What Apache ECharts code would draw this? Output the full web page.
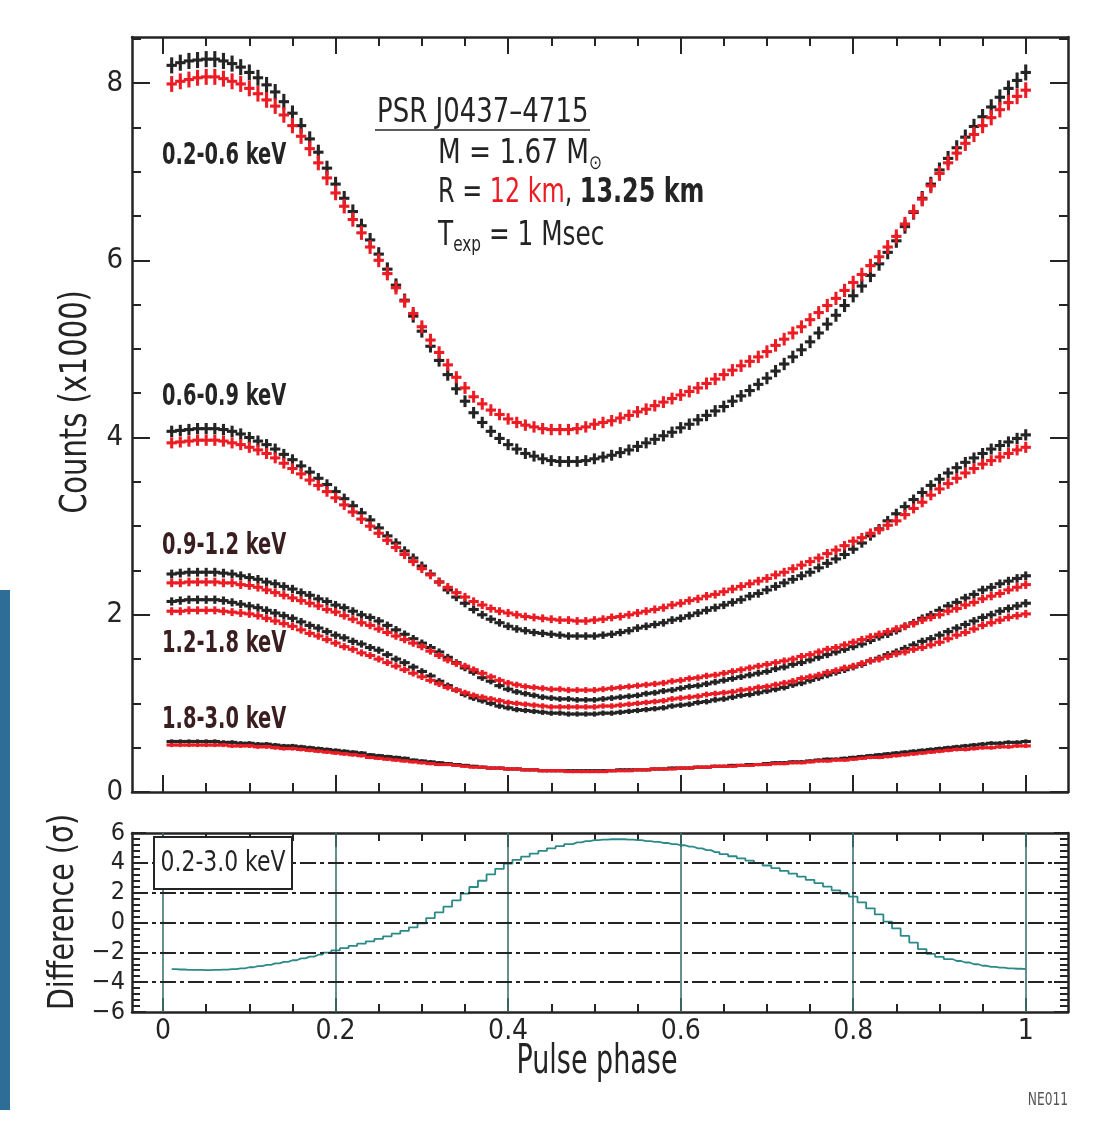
<!DOCTYPE html>
<html>
<head>
<meta charset="utf-8">
<title>PSR J0437-4715 pulse profiles</title>
<script src="https://cdn.jsdelivr.net/npm/echarts@6/dist/echarts.min.js"></script>
<style>
  html, body { margin: 0; padding: 0; background: #fff; }
  #chart { width: 1098px; height: 1129px; }
</style>
</head>
<body>
<div id="chart"></div>
<script>
// 100 phase bins, centres 0.01 .. 1.00
const phase = Array.from({ length: 100 }, (_, i) => +((i + 1) / 100).toFixed(2));

const phaseTicks = [0, 0.2, 0.4, 0.6, 0.8, 1];
const countTicks = [0, 2, 4, 6, 8];
const diffTicks = [-6, -4, -2, 0, 2, 4, 6];
const diffGridLines = [-4, -2, 0, 2, 4];

// counts (x1000), black = R 13.25 km, red = R 12 km
const b06 = [
  8.20, 8.23, 8.25, 8.26, 8.27, 8.27, 8.25, 8.22, 8.18, 8.12,
  8.06, 7.98, 7.90, 7.79, 7.66, 7.52, 7.37, 7.22, 7.04, 6.86,
  6.70, 6.55, 6.39, 6.23, 6.07, 5.90, 5.72, 5.55, 5.37, 5.20,
  5.03, 4.87, 4.71, 4.55, 4.41, 4.28, 4.17, 4.07, 3.99, 3.92,
  3.87, 3.82, 3.79, 3.76, 3.74, 3.73, 3.73, 3.73, 3.74, 3.76,
  3.78, 3.80, 3.83, 3.86, 3.90, 3.94, 3.98, 4.02, 4.06, 4.11,
  4.15, 4.20, 4.25, 4.30, 4.35, 4.41, 4.47, 4.53, 4.60, 4.67,
  4.75, 4.83, 4.91, 4.99, 5.08, 5.18, 5.28, 5.38, 5.49, 5.60,
  5.71, 5.83, 5.96, 6.09, 6.22, 6.38, 6.54, 6.70, 6.86, 7.02,
  7.15, 7.27, 7.39, 7.51, 7.62, 7.73, 7.84, 7.94, 8.03, 8.12
];
const r06 = [
  7.99, 8.02, 8.04, 8.06, 8.07, 8.07, 8.05, 8.02, 7.99, 7.94,
  7.88, 7.81, 7.74, 7.64, 7.52, 7.40, 7.26, 7.10, 6.93, 6.76,
  6.61, 6.46, 6.31, 6.15, 6.00, 5.85, 5.69, 5.54, 5.40, 5.25,
  5.10, 4.96, 4.82, 4.68, 4.56, 4.46, 4.38, 4.31, 4.26, 4.21,
  4.17, 4.14, 4.12, 4.10, 4.09, 4.09, 4.09, 4.10, 4.12, 4.15,
  4.17, 4.19, 4.22, 4.25, 4.29, 4.32, 4.36, 4.40, 4.44, 4.48,
  4.52, 4.56, 4.61, 4.66, 4.71, 4.76, 4.81, 4.86, 4.91, 4.97,
  5.04, 5.11, 5.18, 5.25, 5.33, 5.41, 5.49, 5.57, 5.66, 5.75,
  5.84, 5.94, 6.04, 6.15, 6.27, 6.41, 6.55, 6.69, 6.84, 6.98,
  7.10, 7.21, 7.32, 7.42, 7.52, 7.61, 7.70, 7.78, 7.85, 7.92
];
const b09 = [
  4.07, 4.08, 4.09, 4.10, 4.10, 4.10, 4.09, 4.07, 4.04, 4.00,
  3.96, 3.92, 3.87, 3.81, 3.75, 3.68, 3.61, 3.54, 3.47, 3.39,
  3.31, 3.23, 3.15, 3.07, 2.98, 2.89, 2.81, 2.72, 2.64, 2.55,
  2.46, 2.37, 2.28, 2.20, 2.13, 2.06, 2.00, 1.95, 1.91, 1.87,
  1.84, 1.82, 1.80, 1.79, 1.78, 1.77, 1.76, 1.76, 1.76, 1.76,
  1.77, 1.78, 1.80, 1.82, 1.85, 1.87, 1.89, 1.91, 1.94, 1.96,
  1.99, 2.02, 2.05, 2.08, 2.11, 2.14, 2.17, 2.21, 2.24, 2.28,
  2.32, 2.36, 2.40, 2.44, 2.48, 2.53, 2.58, 2.63, 2.68, 2.74,
  2.81, 2.89, 2.97, 3.06, 3.14, 3.22, 3.30, 3.38, 3.46, 3.53,
  3.60, 3.66, 3.72, 3.77, 3.82, 3.87, 3.91, 3.95, 3.99, 4.03
];
const r09 = [
  3.94, 3.95, 3.96, 3.97, 3.97, 3.97, 3.96, 3.94, 3.92, 3.89,
  3.86, 3.82, 3.77, 3.71, 3.65, 3.59, 3.52, 3.46, 3.39, 3.32,
  3.24, 3.16, 3.08, 3.00, 2.92, 2.84, 2.76, 2.68, 2.60, 2.52,
  2.45, 2.37, 2.31, 2.25, 2.20, 2.15, 2.11, 2.07, 2.04, 2.02,
  2.00, 1.98, 1.97, 1.96, 1.95, 1.94, 1.94, 1.93, 1.93, 1.94,
  1.95, 1.97, 1.98, 2.00, 2.02, 2.04, 2.06, 2.08, 2.11, 2.13,
  2.16, 2.18, 2.21, 2.23, 2.26, 2.29, 2.32, 2.35, 2.38, 2.41,
  2.45, 2.48, 2.52, 2.56, 2.60, 2.64, 2.69, 2.73, 2.78, 2.83,
  2.87, 2.92, 2.96, 3.01, 3.06, 3.13, 3.20, 3.27, 3.35, 3.42,
  3.48, 3.54, 3.60, 3.65, 3.70, 3.74, 3.78, 3.82, 3.86, 3.89
];
const b12 = [
  2.46, 2.47, 2.48, 2.48, 2.48, 2.48, 2.47, 2.46, 2.44, 2.42,
  2.40, 2.37, 2.35, 2.32, 2.29, 2.25, 2.22, 2.18, 2.15, 2.11,
  2.08, 2.04, 2.00, 1.97, 1.93, 1.88, 1.83, 1.78, 1.73, 1.68,
  1.63, 1.58, 1.52, 1.46, 1.40, 1.35, 1.29, 1.25, 1.20, 1.16,
  1.13, 1.11, 1.09, 1.07, 1.06, 1.05, 1.05, 1.04, 1.04, 1.04,
  1.05, 1.06, 1.07, 1.08, 1.09, 1.11, 1.12, 1.14, 1.15, 1.17,
  1.19, 1.20, 1.22, 1.24, 1.26, 1.28, 1.30, 1.32, 1.34, 1.36,
  1.39, 1.41, 1.44, 1.46, 1.49, 1.52, 1.55, 1.58, 1.61, 1.64,
  1.67, 1.71, 1.75, 1.78, 1.82, 1.87, 1.91, 1.96, 2.00, 2.05,
  2.10, 2.14, 2.19, 2.23, 2.28, 2.31, 2.35, 2.38, 2.41, 2.44
];
const r12 = [
  2.36, 2.36, 2.37, 2.37, 2.37, 2.37, 2.36, 2.36, 2.34, 2.33,
  2.31, 2.28, 2.25, 2.22, 2.19, 2.16, 2.13, 2.10, 2.06, 2.03,
  1.99, 1.95, 1.91, 1.88, 1.84, 1.80, 1.76, 1.72, 1.68, 1.64,
  1.59, 1.54, 1.49, 1.45, 1.42, 1.38, 1.34, 1.30, 1.26, 1.23,
  1.21, 1.19, 1.18, 1.17, 1.16, 1.16, 1.15, 1.15, 1.15, 1.15,
  1.16, 1.17, 1.18, 1.19, 1.20, 1.21, 1.22, 1.23, 1.25, 1.26,
  1.28, 1.29, 1.31, 1.32, 1.34, 1.36, 1.38, 1.40, 1.42, 1.44,
  1.46, 1.48, 1.50, 1.53, 1.55, 1.58, 1.61, 1.63, 1.66, 1.69,
  1.72, 1.75, 1.78, 1.81, 1.84, 1.87, 1.90, 1.94, 1.97, 2.00,
  2.04, 2.07, 2.11, 2.14, 2.18, 2.21, 2.24, 2.28, 2.31, 2.34
];
const b18 = [
  2.15, 2.16, 2.17, 2.17, 2.17, 2.17, 2.16, 2.14, 2.12, 2.10,
  2.08, 2.05, 2.02, 1.99, 1.96, 1.92, 1.88, 1.85, 1.81, 1.77,
  1.74, 1.70, 1.67, 1.63, 1.60, 1.55, 1.50, 1.46, 1.41, 1.36,
  1.31, 1.25, 1.20, 1.15, 1.10, 1.06, 1.03, 1.00, 0.97, 0.95,
  0.93, 0.92, 0.91, 0.90, 0.89, 0.89, 0.88, 0.88, 0.88, 0.88,
  0.89, 0.89, 0.90, 0.91, 0.92, 0.93, 0.94, 0.95, 0.97, 0.98,
  0.99, 1.01, 1.02, 1.04, 1.05, 1.07, 1.09, 1.10, 1.12, 1.14,
  1.16, 1.18, 1.21, 1.23, 1.26, 1.29, 1.32, 1.35, 1.38, 1.41,
  1.44, 1.48, 1.51, 1.55, 1.58, 1.62, 1.66, 1.70, 1.73, 1.77,
  1.81, 1.85, 1.89, 1.93, 1.97, 2.00, 2.04, 2.07, 2.10, 2.13
];
const r18 = [
  2.04, 2.04, 2.05, 2.05, 2.05, 2.05, 2.04, 2.03, 2.02, 2.01,
  1.99, 1.96, 1.93, 1.90, 1.87, 1.83, 1.79, 1.76, 1.72, 1.68,
  1.64, 1.61, 1.57, 1.54, 1.50, 1.46, 1.42, 1.38, 1.34, 1.30,
  1.26, 1.22, 1.18, 1.15, 1.12, 1.09, 1.07, 1.05, 1.03, 1.01,
  1.00, 0.99, 0.98, 0.97, 0.96, 0.96, 0.96, 0.96, 0.96, 0.96,
  0.97, 0.97, 0.98, 0.99, 1.00, 1.01, 1.02, 1.03, 1.05, 1.06,
  1.07, 1.08, 1.10, 1.11, 1.12, 1.13, 1.15, 1.16, 1.18, 1.19,
  1.21, 1.23, 1.25, 1.28, 1.30, 1.32, 1.35, 1.37, 1.40, 1.42,
  1.45, 1.48, 1.50, 1.53, 1.56, 1.58, 1.61, 1.63, 1.66, 1.69,
  1.73, 1.77, 1.80, 1.84, 1.88, 1.91, 1.94, 1.97, 1.99, 2.01
];
const b30 = [
  0.57, 0.57, 0.57, 0.57, 0.57, 0.57, 0.56, 0.56, 0.55, 0.55,
  0.54, 0.54, 0.53, 0.52, 0.52, 0.51, 0.50, 0.49, 0.48, 0.47,
  0.46, 0.45, 0.44, 0.42, 0.41, 0.40, 0.39, 0.38, 0.36, 0.35,
  0.34, 0.33, 0.32, 0.31, 0.30, 0.29, 0.28, 0.27, 0.27, 0.26,
  0.26, 0.25, 0.25, 0.24, 0.24, 0.24, 0.24, 0.24, 0.24, 0.24,
  0.24, 0.24, 0.25, 0.25, 0.25, 0.25, 0.26, 0.26, 0.27, 0.27,
  0.27, 0.28, 0.28, 0.29, 0.29, 0.30, 0.30, 0.31, 0.31, 0.32,
  0.33, 0.33, 0.34, 0.34, 0.35, 0.36, 0.37, 0.37, 0.38, 0.39,
  0.40, 0.41, 0.42, 0.43, 0.44, 0.45, 0.46, 0.47, 0.48, 0.49,
  0.50, 0.51, 0.52, 0.53, 0.54, 0.55, 0.55, 0.56, 0.56, 0.57
];
const r30 = [
  0.53, 0.53, 0.53, 0.53, 0.53, 0.53, 0.53, 0.52, 0.52, 0.52,
  0.51, 0.51, 0.50, 0.49, 0.49, 0.48, 0.47, 0.46, 0.45, 0.44,
  0.43, 0.42, 0.41, 0.39, 0.38, 0.37, 0.36, 0.35, 0.34, 0.33,
  0.32, 0.31, 0.31, 0.30, 0.29, 0.28, 0.28, 0.27, 0.27, 0.26,
  0.26, 0.25, 0.25, 0.24, 0.24, 0.24, 0.23, 0.23, 0.23, 0.23,
  0.23, 0.24, 0.24, 0.24, 0.25, 0.25, 0.26, 0.26, 0.26, 0.27,
  0.27, 0.28, 0.28, 0.29, 0.29, 0.29, 0.30, 0.30, 0.31, 0.31,
  0.32, 0.32, 0.33, 0.33, 0.34, 0.35, 0.35, 0.36, 0.36, 0.37,
  0.38, 0.39, 0.39, 0.40, 0.41, 0.42, 0.43, 0.44, 0.45, 0.46,
  0.47, 0.48, 0.48, 0.49, 0.50, 0.50, 0.51, 0.51, 0.52, 0.52
];

// difference between the two models, 0.2-3.0 keV, in sigma
const diff = [
  -3.13, -3.15, -3.17, -3.18, -3.19, -3.18, -3.16, -3.13, -3.07, -3.00,
  -2.92, -2.84, -2.74, -2.64, -2.53, -2.41, -2.29, -2.16, -2.02, -1.87,
  -1.72, -1.57, -1.42, -1.26, -1.10, -0.93, -0.75, -0.56, -0.33, -0.05,
  0.30, 0.68, 1.06, 1.48, 1.93, 2.38, 2.80, 3.22, 3.60, 3.95,
  4.20, 4.42, 4.62, 4.80, 4.97, 5.12, 5.26, 5.37, 5.46, 5.52,
  5.56, 5.58, 5.58, 5.56, 5.52, 5.46, 5.40, 5.33, 5.26, 5.18,
  5.08, 4.97, 4.85, 4.72, 4.58, 4.44, 4.30, 4.15, 3.99, 3.82,
  3.64, 3.46, 3.27, 3.07, 2.86, 2.64, 2.40, 2.16, 1.94, 1.73,
  1.35, 0.95, 0.54, 0.06, -0.40, -0.90, -1.35, -1.78, -2.10, -2.30,
  -2.45, -2.58, -2.68, -2.80, -2.90, -2.97, -3.03, -3.07, -3.10, -3.12
];

const INK = '#242424';
const RED = '#ec1c24';
const TEAL = '#2b8a87';
const FONT = "'DejaVu Sans Condensed', 'Liberation Sans Narrow', sans-serif";

const X_MIN = -0.036, X_MAX = 1.049;

// minor tick positions
const minorPhase = [];
for (let k = 0; k <= 20; k++) minorPhase.push(+(k * 0.05).toFixed(2));
const minorCounts = [];
for (let k = 0; k <= 17; k++) minorCounts.push(k * 0.5);
const minorDiff = [];
for (let k = -15; k <= 15; k++) minorDiff.push(+(k * 0.4).toFixed(1));

function xAx(grid, pos, ticks, len, line, label) {
  return {
    type: 'value', gridIndex: grid, position: pos, min: X_MIN, max: X_MAX,
    axisLine: { show: line, onZero: false, lineStyle: { color: INK, width: 2.5 } },
    axisTick: { show: true, inside: true, length: len, customValues: ticks, lineStyle: { color: INK, width: 2 } },
    axisLabel: label || { show: false },
    splitLine: { show: false }
  };
}

function yAx(grid, pos, min, max, ticks, len, line, label) {
  return {
    type: 'value', gridIndex: grid, position: pos, min: min, max: max,
    axisLine: { show: line, onZero: false, lineStyle: { color: INK, width: 2.5 } },
    axisTick: { show: true, inside: true, length: len, customValues: ticks, lineStyle: { color: INK, width: 2 } },
    axisLabel: label || { show: false },
    splitLine: { show: false }
  };
}

// each bin drawn as a cross: bin width horizontally, poisson error vertically
function crossSeries(name, values, color) {
  return {
    name: name,
    type: 'custom',
    xAxisIndex: 0,
    yAxisIndex: 0,
    data: values.map((v, i) => [phase[i], v]),
    renderItem: function (params, api) {
      const x = api.value(0);
      const y = api.value(1);
      const err = Math.sqrt(y / 1000);
      const l = api.coord([x - 0.006, y]);
      const r = api.coord([x + 0.006, y]);
      const t = api.coord([x, y + err]);
      const b = api.coord([x, y - err]);
      const st = { stroke: color, lineWidth: 3.1 };
      return {
        type: 'group',
        children: [
          { type: 'line', shape: { x1: l[0], y1: l[1], x2: r[0], y2: r[1] }, style: st },
          { type: 'line', shape: { x1: t[0], y1: t[1], x2: b[0], y2: b[1] }, style: st }
        ]
      };
    }
  };
}

// free text, squeezed horizontally to look like the condensed face of the original
function txt(text, x, y, font, sx, opts) {
  const o = opts || {};
  return {
    type: 'text', x: x, y: y, scaleX: sx, rotation: o.rotation || 0, z: o.z || 20,
    style: {
      text: text, font: font, fill: o.fill || INK,
      align: o.align || 'left', verticalAlign: 'middle', rich: o.rich
    }
  };
}

const chart = echarts.init(document.getElementById('chart'));

chart.setOption({
  animation: false,
  backgroundColor: '#fff',
  grid: [
    { left: 132, right: 30, top: 37, height: 755 },
    { left: 132, right: 30, top: 833, height: 179 }
  ],
  xAxis: [
    xAx(0, 'bottom', phaseTicks, 17, true),
    xAx(0, 'bottom', minorPhase, 9, false),
    xAx(0, 'top', phaseTicks, 17, true),
    xAx(0, 'top', minorPhase, 9, false),
    xAx(1, 'bottom', phaseTicks, 14, true, {
      show: true, customValues: phaseTicks, formatter: v => String(v),
      fontSize: 28, fontFamily: FONT, color: INK, margin: 6
    }),
    xAx(1, 'bottom', minorPhase, 8, false),
    xAx(1, 'top', phaseTicks, 14, true),
    xAx(1, 'top', minorPhase, 8, false)
  ],
  yAxis: [
    yAx(0, 'left', 0, 8.52, countTicks, 18, true, {
      show: true, customValues: countTicks, fontSize: 29, fontFamily: FONT, color: INK, margin: 9
    }),
    yAx(0, 'left', 0, 8.52, minorCounts, 9, false),
    yAx(0, 'right', 0, 8.52, countTicks, 18, true),
    yAx(0, 'right', 0, 8.52, minorCounts, 9, false),
    yAx(1, 'left', -6, 6, diffTicks, 14, true, {
      show: true, customValues: diffTicks, fontSize: 25, fontFamily: FONT, color: INK, margin: 7,
      showMinLabel: true, showMaxLabel: true,
      formatter: v => (v < 0 ? '\u2212' + (-v) : String(v))
    }),
    yAx(1, 'left', -6, 6, minorDiff, 8, false),
    yAx(1, 'right', -6, 6, diffTicks, 14, true),
    yAx(1, 'right', -6, 6, minorDiff, 8, false)
  ],
  series: [
    crossSeries('0.2-0.6 keV 13.25 km', b06, INK),
    crossSeries('0.2-0.6 keV 12 km', r06, RED),
    crossSeries('0.6-0.9 keV 13.25 km', b09, INK),
    crossSeries('0.6-0.9 keV 12 km', r09, RED),
    crossSeries('0.9-1.2 keV 13.25 km', b12, INK),
    crossSeries('0.9-1.2 keV 12 km', r12, RED),
    crossSeries('1.2-1.8 keV 13.25 km', b18, INK),
    crossSeries('1.2-1.8 keV 12 km', r18, RED),
    crossSeries('1.8-3.0 keV 13.25 km', b30, INK),
    crossSeries('1.8-3.0 keV 12 km', r30, RED),
    {
      name: 'Difference',
      type: 'line',
      xAxisIndex: 4,
      yAxisIndex: 4,
      step: 'middle',
      showSymbol: false,
      data: diff.map((v, i) => [phase[i], v]),
      lineStyle: { color: TEAL, width: 1.8 },
      markLine: {
        silent: true,
        symbol: 'none',
        label: { show: false },
        data: phaseTicks.map(v => ({ xAxis: v, lineStyle: { color: '#3d7473', width: 1.6, type: 'solid' } }))
          .concat(diffGridLines.map(v => ({ yAxis: v, lineStyle: { color: INK, width: 2, type: [16, 4, 4, 4] } })))
      }
    }
  ],
  graphic: [
    // scan edge on the left of the page
    { type: 'rect', shape: { x: 0, y: 590, width: 10, height: 520 }, style: { fill: '#2d6d98' } },

    // axis titles
    txt('Counts (x1000)', 76, 402, '37px ' + FONT, 0.87, { align: 'center', rotation: Math.PI / 2 }),
    txt('Difference (\u03c3)', 64, 912, '36px ' + FONT, 0.88, { align: 'center', rotation: Math.PI / 2 }),
    txt('Pulse phase', 597, 1063, '40px ' + FONT, 0.75, { align: 'center' }),

    // energy band labels
    txt('0.2-0.6 keV', 162, 156, 'bold 30px ' + FONT, 0.72),
    txt('0.6-0.9 keV', 162, 397, 'bold 30px ' + FONT, 0.72),
    txt('0.9-1.2 keV', 162, 546, 'bold 30px ' + FONT, 0.72, { fill: '#3a1d1e' }),
    txt('1.2-1.8 keV', 162, 644, 'bold 30px ' + FONT, 0.72, { fill: '#3a1d1e' }),
    txt('1.8-3.0 keV', 162, 720, 'bold 30px ' + FONT, 0.72, { fill: '#3a1d1e' }),

    // model parameters
    txt('PSR J0437\u20134715', 377, 113, '34px ' + FONT, 0.85),
    { type: 'line', shape: { x1: 375, y1: 130, x2: 590, y2: 130 }, style: { stroke: INK, lineWidth: 1.6 } },
    txt('{a|M = 1.67 M}{s|\u2299}', 438, 154, '34px ' + FONT, 0.86, {
      rich: {
        a: { font: '34px ' + FONT, fill: INK, verticalAlign: 'middle', lineHeight: 40 },
        s: { font: '20px ' + FONT, fill: INK, verticalAlign: 'bottom', lineHeight: 40 }
      }
    }),
    txt('{a|R = }{r|12 km}{a|, }{b|13.25 km}', 438, 193, '34px ' + FONT, 0.78, {
      rich: {
        a: { font: '34px ' + FONT, fill: INK },
        r: { font: '34px ' + FONT, fill: RED },
        b: { font: 'bold 34px ' + FONT, fill: INK }
      }
    }),
    txt('{a|T}{s|exp}{a| = 1 Msec}', 438, 236, '34px ' + FONT, 0.81, {
      rich: {
        a: { font: '34px ' + FONT, fill: INK, verticalAlign: 'middle', lineHeight: 40 },
        s: { font: '21px ' + FONT, fill: INK, verticalAlign: 'bottom', lineHeight: 40 }
      }
    }),

    // band box in the difference panel
    {
      type: 'rect', shape: { x: 154, y: 837, width: 138, height: 52 },
      style: { fill: '#fff', stroke: INK, lineWidth: 2 }, z: 10
    },
    txt('0.2-3.0 keV', 223, 863, '29px ' + FONT, 0.84, { align: 'center', z: 11 }),

    txt('NE011', 1068, 1101, '17px ' + FONT, 0.8, { align: 'right', fill: '#555' })
  ]
});
</script>
</body>
</html>
